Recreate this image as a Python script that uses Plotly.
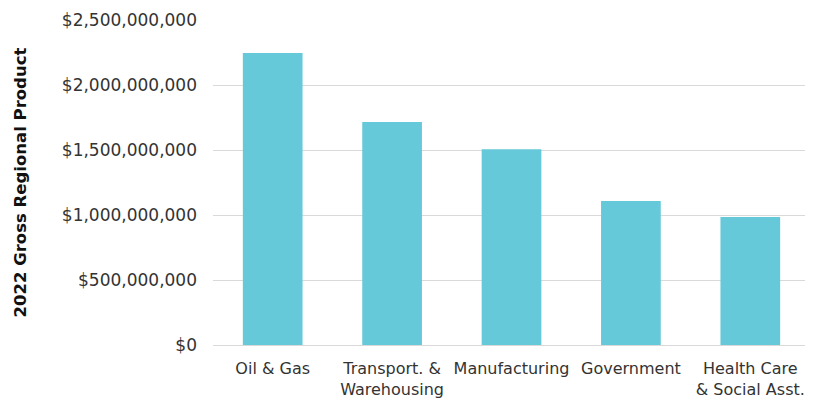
import plotly.graph_objects as go

categories = ["Oil & Gas", "Transport. &<br>Warehousing", "Manufacturing", "Government", "Health Care<br>& Social Asst."]
values = [2246000000, 1715000000, 1506000000, 1108000000, 985000000]
tick_vals = [0, 500000000, 1000000000, 1500000000, 2000000000, 2500000000]
tick_text = ["$0", "$500,000,000", "$1,000,000,000", "$1,500,000,000", "$2,000,000,000", "$2,500,000,000"]
y_title = "2022 Gross Regional Product"

fig = go.Figure(go.Bar(x=categories, y=values, marker=dict(color="#66C9D9", line=dict(width=0))))

fig.update_layout(
    width=805, height=393,
    margin=dict(l=205, r=3, t=12, b=56),
    paper_bgcolor="white", plot_bgcolor="white",
    bargap=0.5,
    showlegend=False,
    font=dict(family="'DejaVu Sans', sans-serif", size=16, color="#333333"),
)
fig.update_xaxes(tickfont=dict(size=16, color="#333333"), showgrid=False, showline=False, ticks="",
                 ticklabelstandoff=12, automargin=False)
fig.update_yaxes(
    range=[0, 2500000000], tickvals=tick_vals, ticktext=tick_text,
    showgrid=True, gridcolor="#d9d9d9", gridwidth=1, zeroline=True, zerolinecolor="#d9d9d9", zerolinewidth=1,
    tickfont=dict(size=17, color="#333333"), ticklabelstandoff=15, automargin=False,
)
fig.add_annotation(text="<b>" + y_title + "</b>", xref="paper", yref="paper", x=0, y=0.5,
                   xshift=-193, textangle=-90, showarrow=False, xanchor="center", yanchor="middle",
                   font=dict(size=16.5, color="#111111", family="'DejaVu Sans', sans-serif"))
fig.write_html("out.html")
